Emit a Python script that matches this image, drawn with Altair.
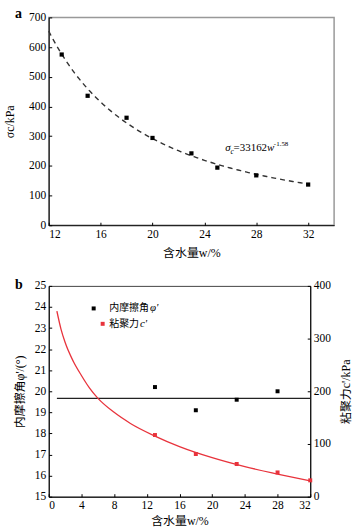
import altair as alt
import pandas as pd

# ---------------- data ----------------
# panel a : unconfined compressive strength vs water content
w_a = [13, 15, 18, 20, 23, 25, 28, 32]
sigma_a = [575, 436, 362, 294, 242, 194, 168, 137]
fit_coef = 33162
fit_exp = -1.58
fit_range = [12, 32]
a_x_ticks = [12, 16, 20, 24, 28, 32]
a_y_ticks = [0, 100, 200, 300, 400, 500, 600, 700]
eq_pos = [25.6, 251]            # (w, sigma) where the equation text starts

# panel b : friction angle and cohesion vs water content
w_phi = [13, 18, 23, 28]
phi_vals = [20.2, 19.1, 19.6, 20.0]
phi_mean = 19.66
phi_line_w = [1, 32]

w_c = [13, 18, 23, 28, 32]
c_vals = [117, 81, 62, 46, 31]
curve_w = [1, 1.5, 2, 3, 4, 5, 6, 8, 10, 13, 16, 20, 24, 28, 32]
curve_c = [352, 318, 293, 257, 230, 206, 187, 160, 139, 115, 95, 74, 57, 43, 30]

b_x_ticks = [0, 4, 8, 12, 16, 20, 24, 28, 32]
b_yl_ticks = list(range(15, 26))
b_yr_ticks = [0, 100, 200, 300, 400]

legend_cn = ["内摩擦角", "粘聚力"]
legend_sym = ["φ'", "c'"]
legend_color = ["black", "#e8333c"]
legend_sym_w = [5.5, 6.6]
legend_phi = [23.93, 23.2]
legend_text_w = 7.4

SERIF = "'Liberation Serif', 'Times New Roman', serif"
CJK = "'Liberation Serif', 'Noto Sans CJK SC', serif"
RED = "#e8333c"


def axis(**kw):
    base = dict(
        domainColor="black", domainWidth=1, tickColor="black",
        tickSize={"expr": "-3"}, tickWidth=1, labelPadding=6,
        labelFont=SERIF, labelFontSize=11.5, labelColor="black",
        titleFont=CJK, titleFontSize=12, titleColor="black",
        titleFontWeight="normal", grid=False,
    )
    base.update(kw)
    return alt.Axis(**base)


# ---------------- panel a ----------------
df_a = pd.DataFrame({"w": w_a, "s": sigma_a})
xa = alt.X("w:Q", scale=alt.Scale(domain=[12, 34], nice=False),
           axis=axis(values=a_x_ticks, title="含水量w/%", titlePadding=8))
ya = alt.Y("s:Q", scale=alt.Scale(domain=[0, 700], nice=False),
           axis=axis(values=a_y_ticks, title="σc/kPa", titlePadding=12))

fit_a = (
    alt.Chart(alt.sequence(fit_range[0], fit_range[1] + 0.001, 0.2, as_="w"))
    .transform_calculate(s=f"{fit_coef}*pow(datum.w,{fit_exp})")
    .mark_line(strokeDash=[5, 4], color="#333", strokeWidth=1.4)
    .encode(x=xa, y=ya)
)
pts_a = alt.Chart(df_a).mark_square(size=18, color="black", opacity=1).encode(x=xa, y=ya)

eq_df = pd.DataFrame({"w": [eq_pos[0]], "s": [eq_pos[1]]})
eq_parts = [
    ("σ", 0, 0, 11, "italic"),
    ("c", 5.5, 3, 7.5, "italic"),
    ("=33162", 8.5, 0, 11, "normal"),
    ("w", 42, 0, 11, "italic"),
    ("-1.58", 49, -5, 7, "normal"),
]
eq_layers = [
    alt.Chart(eq_df).mark_text(text=t, dx=dx, dy=dy, fontSize=fs, fontStyle=st,
                               font=SERIF, align="left", baseline="alphabetic",
                               color="black")
    .encode(x=xa, y=ya)
    for t, dx, dy, fs, st in eq_parts
]
label_a = alt.Chart(eq_df).mark_text(text="a", font=SERIF, fontWeight="bold",
                                     fontSize=14, align="left", baseline="middle",
                                     color="black").encode(x=alt.value(-34), y=alt.value(-3))

panel_a = alt.layer(fit_a, pts_a, *eq_layers, label_a).properties(
    width=287, height=209,
    view=alt.ViewBackground(stroke="#999", strokeWidth=1.5),
)

# ---------------- panel b ----------------
xb = alt.X("w:Q", scale=alt.Scale(domain=[0, 32], nice=False),
           axis=axis(values=b_x_ticks, title="含水量w/%", titlePadding=4))
yl = alt.Y("phi:Q", scale=alt.Scale(domain=[15, 25], nice=False),
           axis=axis(values=b_yl_ticks, title="内摩擦角φ'/(°)", titlePadding=8))
yr = alt.Y("c:Q", scale=alt.Scale(domain=[0, 400], nice=False),
           axis=axis(orient="right", values=b_yr_ticks, title="粘聚力c'/kPa",
                     titlePadding=10, titleAngle=270, titleBaseline="top"))

df_phi = pd.DataFrame({"w": w_phi, "phi": phi_vals})
df_line = pd.DataFrame({"w": [phi_line_w[0]], "w2": [phi_line_w[1]], "phi": [phi_mean]})
df_c = pd.DataFrame({"w": w_c, "c": c_vals})
df_curve = pd.DataFrame({"w": curve_w, "c": curve_c})

phi_pts = alt.Chart(df_phi).mark_square(size=16, color="black", opacity=1).encode(x=xb, y=yl)
phi_line = alt.Chart(df_line).mark_rule(color="#222", strokeWidth=1.2).encode(
    x=xb, x2="w2:Q", y=yl)

leg_layers = []
for i in range(len(legend_cn)):
    d = pd.DataFrame({"w": [legend_sym_w[i]], "phi": [legend_phi[i]]})
    dt = pd.DataFrame({"w": [legend_text_w], "phi": [legend_phi[i]]})
    leg_layers.append(alt.Chart(d).mark_square(size=16, color=legend_color[i], opacity=1)
                      .encode(x=xb, y=yl))
    leg_layers.append(alt.Chart(dt).mark_text(text=legend_cn[i], font="Noto Sans CJK SC",
                                              fontSize=10, align="left", baseline="middle",
                                              color="black").encode(x=xb, y=yl))
    leg_layers.append(alt.Chart(dt).mark_text(text=legend_sym[i], font=SERIF,
                                              fontStyle="italic", fontSize=11,
                                              dx=10 * len(legend_cn[i]) + 1,
                                              align="left", baseline="middle",
                                              color="black").encode(x=xb, y=yl))
label_b = alt.Chart(df_line).mark_text(text="b", font=SERIF, fontWeight="bold",
                                       fontSize=14, align="left", baseline="middle",
                                       color="black").encode(x=alt.value(-34), y=alt.value(-1))

left = alt.layer(phi_line, phi_pts, *leg_layers, label_b)

c_curve = alt.Chart(df_curve).mark_line(color=RED, strokeWidth=1.3, interpolate="monotone").encode(x=xb, y=yr)
c_pts = alt.Chart(df_c).mark_square(size=16, color=RED, opacity=1).encode(x=xb, y=yr)
right = alt.layer(c_curve, c_pts)

panel_b = alt.layer(left, right).resolve_scale(y="independent").properties(
    width=263, height=212,
    view=alt.ViewBackground(stroke="#444", strokeWidth=1),
)

chart = alt.vconcat(panel_a, panel_b, spacing=61, bounds="flush").properties(
    padding={"left": 3, "top": 5, "right": 0, "bottom": 2},
    background="white",
).configure(font=CJK).configure_axis(
    labelFont=SERIF, titleFont=CJK, labelColor="black", titleColor="black"
)

chart.save("out.html", embed_options={"renderer": "svg", "actions": False})
